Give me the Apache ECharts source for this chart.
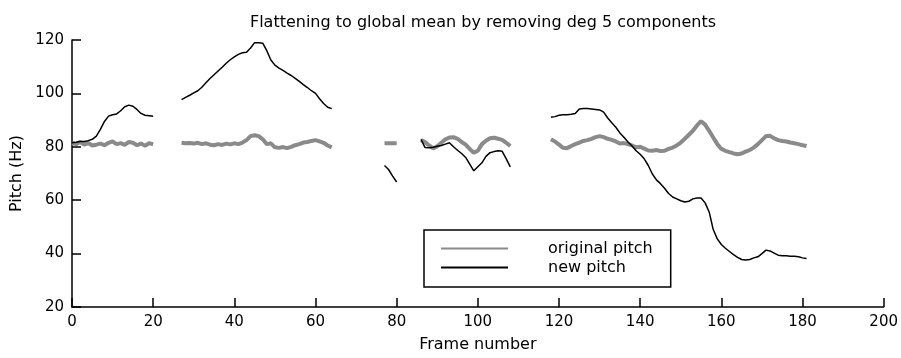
<!DOCTYPE html>
<html>
<head>
<meta charset="utf-8">
<script src="https://cdn.jsdelivr.net/npm/echarts@6/dist/echarts.min.js"></script>
<style>
  html, body { margin: 0; padding: 0; background: #fff; }
  #chart { width: 901px; height: 358px; }
</style>
</head>
<body>
<div id="chart"></div>
<script>
// first frame of each voiced segment
const segmentStart = [0, 27, 77, 86, 118]

const originalPitch = [
  [81.5, 81, 81.8, 80.8, 81.4, 80.5, 80.8, 81.2, 80.6, 81.5, 82, 81, 81.4, 80.7, 81.8, 81.5, 80.6, 81.2, 80.4, 81.3, 81],
  [81.5, 81.3, 81.4, 81.2, 81.5, 81, 81.3, 80.8, 80.6, 81, 80.7, 81.2, 80.9, 81.3, 81, 81.6, 82.5, 84, 84.3, 84,
   82.8, 81, 81.3, 79.8, 79.6, 79.9, 79.5, 80, 80.6, 81, 81.6, 81.8, 82.2, 82.5, 82, 81.5, 80.5, 79.8],
  [81.3, 81.3, 81.3, 81.3],
  [82.5, 81.8, 80.5, 79.4, 80.2, 81.5, 82.8, 83.5, 83.6, 83, 81.8, 80.8, 79.2, 77.8, 78.5, 81, 82.3, 83.2, 83.4, 83,
   82.6, 81.5, 80.3],
  [82.8, 82, 80.8, 79.6, 79.5, 80.3, 81, 81.6, 82.2, 82.5, 83, 83.6, 84, 83.6, 83, 82.6, 82, 81.2, 81.4, 81,
   80.5, 79.8, 80, 79.3, 78.6, 78.5, 78.8, 78.4, 78.5, 79.2, 79.7, 80.5, 81.6, 83, 84.5, 86, 88, 89.6, 88.3, 86,
   83.5, 81, 79.2, 78.5, 78, 77.5, 77.2, 77.5, 78.2, 78.8, 79.7, 81, 82.5, 84, 84.1, 83.2, 82.5, 82.2, 82, 81.6,
   81.3, 81, 80.6, 80.3]
]

const newPitch = [
  [81.5, 81.7, 82, 82, 82.3, 82.8, 84, 86.5, 89.5, 91.5, 92, 92.3, 93.5, 95, 95.6, 95.2, 94, 92.5, 91.8, 91.6, 91.4],
  [97.7, 98.5, 99.3, 100.2, 101, 102.3, 104, 105.6, 107, 108.4, 109.8, 111.3, 112.6, 113.7, 114.6, 115.2, 115.4, 117, 119, 119,
   118.8, 116, 112.5, 110.6, 109.5, 108.6, 107.6, 106.7, 105.6, 104.5, 103.3, 102.2, 101, 100, 98, 96.2, 94.8, 94.3],
  [73, 71.5, 69, 66.8],
  [82.8, 79.7, 79.6, 79.8, 80.2, 80.5, 81, 81.5, 80, 78.7, 77.5, 76, 73.5, 71, 72.5, 74, 76.4, 77.8, 78.2, 78.5,
   78.3, 75.5, 72.5],
  [91.1, 91.3, 91.8, 92, 92, 92.2, 92.5, 94.2, 94.3, 94.3, 94.2, 94, 93.8, 93, 90.8, 89, 87.3, 85.2, 83.6, 81.8,
   80.3, 78.5, 77.2, 75.5, 73, 69.8, 67.6, 66.2, 64.5, 62.5, 61.2, 60.5, 59.8, 59.3, 59.6, 60.5, 60.8, 60.8, 59, 55.6,
   49, 45.5, 43.4, 42, 40.8, 39.6, 38.6, 37.8, 37.6, 37.8, 38.4, 38.8, 40, 41.3, 41, 40.2, 39.4, 39.2, 39.2, 39,
   39, 38.8, 38.4, 38.2]
]

const xTicks = { min: 0, max: 200, interval: 20 }
const yTicks = { min: 20, max: 120, interval: 20 }

// frame/value pairs, with a gap point after every segment
function toPoints(segments) {
  const out = []
  segments.forEach((seg, k) => {
    seg.forEach((v, i) => out.push([segmentStart[k] + i, v]))
    out.push([segmentStart[k] + seg.length, '-'])
  })
  return out
}

const font = 'DejaVu Sans'
const axisLine = { show: true, lineStyle: { color: '#000', width: 1.5 } }

const chart = echarts.init(document.getElementById('chart'))
chart.setOption({
  animation: false,
  backgroundColor: '#fff',
  title: {
    text: 'Flattening to global mean by removing deg 5 components',
    left: 478,
    textAlign: 'center',
    top: 10,
    textStyle: { fontFamily: font, fontSize: 16, fontWeight: 'normal', color: '#000' }
  },
  grid: { left: 72, right: 16, top: 40, bottom: 49 },
  legend: {
    orient: 'vertical',
    left: 424,
    top: 230,
    padding: [9, 18, 10, 16],
    itemGap: 0,
    itemWidth: 67,
    itemHeight: 14,
    borderColor: '#000',
    borderWidth: 1.5,
    itemStyle: { opacity: 0 },
    textStyle: { fontFamily: font, fontSize: 16, color: '#000', lineHeight: 19, padding: [0, 0, 0, 35] },
    data: ['original pitch', 'new pitch']
  },
  xAxis: {
    type: 'value',
    ...xTicks,
    name: 'Frame number',
    nameLocation: 'middle',
    nameGap: 30,
    nameTextStyle: { fontFamily: font, fontSize: 16, color: '#000' },
    axisLine: axisLine,
    axisTick: { inside: true, length: 9, lineStyle: { color: '#000', width: 1.5 } },
    axisLabel: { fontFamily: font, fontSize: 15, color: '#000', margin: 8 },
    splitLine: { show: false }
  },
  yAxis: {
    type: 'value',
    ...yTicks,
    name: 'Pitch (Hz)',
    nameLocation: 'middle',
    nameGap: 38,
    nameTextStyle: { fontFamily: font, fontSize: 16, color: '#000' },
    axisLine: axisLine,
    axisTick: { inside: true, length: 9, lineStyle: { color: '#000', width: 1.5 } },
    axisLabel: { fontFamily: font, fontSize: 15, color: '#000', margin: 8 },
    splitLine: { show: false }
  },
  series: [
    {
      name: 'original pitch',
      type: 'line',
      data: toPoints(originalPitch),
      symbol: 'none',
      connectNulls: false,
      color: '#8a8a8a',
      lineStyle: { width: 4, color: '#8a8a8a' },
      emphasis: { disabled: true }
    },
    {
      name: 'new pitch',
      type: 'line',
      data: toPoints(newPitch),
      symbol: 'none',
      connectNulls: false,
      color: '#000',
      lineStyle: { width: 1.5, color: '#000' },
      emphasis: { disabled: true }
    }
  ]
})
</script>
</body>
</html>
